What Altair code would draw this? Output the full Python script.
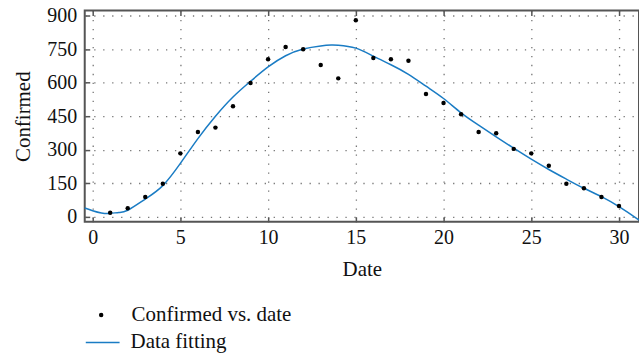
import altair as alt
import pandas as pd

# observed data
dates = list(range(1, 31))
confirmed = [19, 39, 89, 148, 284, 379, 399, 494, 598, 704,
             759, 749, 679, 619, 879, 710, 704, 698, 549, 509,
             459, 379, 374, 304, 284, 229, 148, 128, 89, 49]

# fitted curve
fit_t = [-0.45, 0, 0.5, 1, 1.5, 2, 3, 4, 5, 6, 7, 8, 9, 10, 11, 12, 13, 13.6,
         14, 15, 16, 17, 18, 19, 20, 21, 22, 23, 24, 25, 26, 27, 28, 29, 30, 31, 31.14]
fit_v = [40, 28, 18, 16, 20, 30, 80, 140, 239, 350, 450, 536, 606, 670, 720, 750, 764, 768,
         767, 754, 718, 680, 637, 584, 529, 465, 410, 358, 307, 258, 212, 169, 128, 91, 46, -6, -15]

x_ticks = [0, 5, 10, 15, 20, 25, 30]
y_ticks = [0, 150, 300, 450, 600, 750, 900]

FONT = "Liberation Serif"
FRAME = "#555555"

pts = pd.DataFrame({"date": dates, "confirmed": confirmed, "s": "Confirmed vs. date"})
fit = pd.DataFrame({"t": fit_t, "v": fit_v, "s": "Data fitting"})

xs = alt.Scale(domain=[-0.45, 31.14], nice=False, zero=False)
ys = alt.Scale(domain=[-22, 922], nice=False, zero=False)

points = alt.Chart(pts).mark_circle(size=20, opacity=1).encode(
    x=alt.X("date:Q", scale=xs, axis=alt.Axis(
        orient="bottom", values=x_ticks, title="Date", offset=-5, tickSize=5,
        tickColor=FRAME, tickWidth=1.5, domain=False, labelPadding=6,
        titlePadding=11, grid=True)),
    y=alt.Y("confirmed:Q", scale=ys, axis=alt.Axis(
        orient="left", values=y_ticks, title="Confirmed", offset=-5, tickSize=5,
        tickColor=FRAME, tickWidth=1.5, domain=False, labelPadding=8,
        titlePadding=13, grid=True)),
    color=alt.Color("s:N", scale=alt.Scale(domain=["Confirmed vs. date"], range=["black"]),
                    legend=alt.Legend(orient="none", legendX=6, legendY=295, title=None,
                                      symbolType="circle", symbolSize=20, labelOffset=20,
                                      labelLimit=400,
                                      labelFontSize=21, labelFont=FONT, labelColor="#111",
                                      padding=0)),
)

line = alt.Chart(fit).mark_line(strokeWidth=1.5, interpolate="natural").encode(
    x=alt.X("t:Q", scale=xs, axis=alt.Axis(
        orient="top", values=x_ticks, title=None, labels=False, offset=-5, tickSize=5,
        tickColor=FRAME, tickWidth=1.5, domain=False, grid=False)),
    y=alt.Y("v:Q", scale=ys, axis=None),
    stroke=alt.Stroke("s:N", scale=alt.Scale(domain=["Data fitting"], range=["#1a7cc4"]),
                      legend=alt.Legend(orient="none", legendX=0, legendY=315, title=None,
                                        symbolType="stroke", symbolSize=1150,
                                        symbolStrokeWidth=1.5, labelOffset=10,
                                        labelLimit=400,
                                        labelFontSize=21, labelFont=FONT, labelColor="#111",
                                        padding=0)),
)

chart = alt.layer(line, points).resolve_axis(x="independent", y="independent").resolve_legend(
    color="independent", stroke="independent"
).properties(
    width=556, height=212,
    background="white",
    autosize=alt.AutoSizeParams(type="none"),
    padding={"left": 85, "top": 10, "right": 0, "bottom": 136},
).configure_view(stroke=FRAME, strokeWidth=2).configure_axis(
    labelFont=FONT, labelFontSize=20, labelColor="#111",
    titleFont=FONT, titleFontSize=21, titleFontWeight="normal", titleColor="#111",
    gridColor="#777777", gridDash=[1.3, 7.7], gridWidth=1.3,
)

chart.save("out.html", embed_options={"renderer": "svg", "actions": False})
